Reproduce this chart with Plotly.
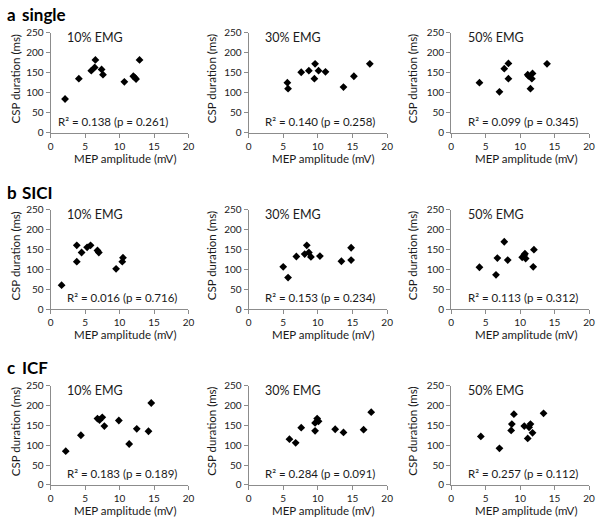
import plotly.graph_objects as go
from plotly.subplots import make_subplots

# ---- data (MEP amplitude mV, CSP duration ms) ----
single_10_x = [2.1, 4.1, 5.9, 6.4, 6.5, 7.4, 7.6, 10.7, 12.0, 12.2, 12.4, 12.9]
single_10_y = [84, 135, 155, 163, 182, 158, 145, 127, 141, 138, 134, 182]
single_30_x = [5.6, 5.7, 7.6, 8.7, 9.5, 9.6, 10.1, 11.1, 13.7, 15.2, 17.5]
single_30_y = [125, 110, 151, 155, 135, 172, 155, 152, 114, 141, 172]
single_50_x = [4.1, 7.0, 7.7, 8.3, 8.3, 11.1, 11.2, 11.8, 11.5, 11.7, 13.9]
single_50_y = [125, 102, 160, 173, 135, 145, 142, 148, 110, 135, 172]

sici_10_x = [1.6, 3.8, 3.8, 4.5, 5.3, 5.8, 6.8, 7.0, 9.5, 10.4, 10.5]
sici_10_y = [61, 161, 120, 143, 156, 161, 148, 143, 102, 120, 130]
sici_30_x = [5.0, 5.7, 6.9, 8.1, 8.4, 8.7, 9.0, 10.3, 13.4, 14.8, 14.8]
sici_30_y = [107, 80, 133, 139, 161, 143, 132, 134, 121, 155, 124]
sici_50_x = [4.1, 6.5, 6.7, 7.7, 8.2, 10.3, 10.6, 10.8, 10.7, 12.0, 11.9]
sici_50_y = [106, 87, 129, 170, 124, 131, 137, 128, 140, 150, 107]

icf_10_x = [2.2, 4.4, 6.8, 7.1, 7.5, 7.8, 9.9, 11.4, 12.5, 14.2, 14.6]
icf_10_y = [85, 125, 167, 163, 170, 148, 162, 103, 141, 135, 206]
icf_30_x = [5.9, 6.8, 7.6, 9.6, 9.6, 9.9, 10.1, 12.5, 13.7, 16.6, 17.7]
icf_30_y = [115, 106, 144, 156, 136, 167, 160, 140, 132, 139, 183]
icf_50_x = [4.3, 7.0, 8.7, 8.8, 9.1, 10.6, 11.1, 11.3, 11.5, 11.8, 13.4]
icf_50_y = [122, 92, 137, 153, 178, 148, 117, 145, 153, 131, 180]

panel_x = [[single_10_x, single_30_x, single_50_x],
           [sici_10_x, sici_30_x, sici_50_x],
           [icf_10_x, icf_30_x, icf_50_x]]
panel_y = [[single_10_y, single_30_y, single_50_y],
           [sici_10_y, sici_30_y, sici_50_y],
           [icf_10_y, icf_30_y, icf_50_y]]

emg_labels = ["10% EMG", "30% EMG", "50% EMG"]
stats = [["R² = 0.138 (p = 0.261)", "R² = 0.140 (p = 0.258)", "R² = 0.099 (p = 0.345)"],
         ["R² = 0.016 (p = 0.716)", "R² = 0.153 (p = 0.234)", "R² = 0.113 (p = 0.312)"],
         ["R² = 0.183 (p = 0.189)", "R² = 0.284 (p = 0.091)", "R² = 0.257 (p = 0.112)"]]
row_letters = ["a", "b", "c"]
row_names = ["single", "SICI", "ICF"]
x_title = "MEP amplitude (mV)"
y_title = "CSP duration (ms)"
x_ticks = [0, 5, 10, 15, 20]
y_ticks = [0, 50, 100, 150, 200, 250]

# ---- layout geometry (pixels) ----
W, H = 600, 521
cols_px = [(48.3, 188.3), (249.3, 390.0), (455.0, 595.0)]
rows_px = [(27.3, 129.3), (208.3, 310.0), (387.7, 489.3)]
ytitle_x = [13, 211.7, 415.7]
title_y = [8.3, 190.7, 369.3]
r2_x = [[0.8, 2.1, 2.1], [2.1, 2.1, 2.1], [2.1, 2.1, 2.1]]
r2_y = [27, 29, 28.5]

FONT = "Lato"
TXT = "#1a1a1a"
AX = "#8c8c8c"

fig = make_subplots(rows=3, cols=3)
annotations = []

for r in range(3):
    for c in range(3):
        idx = r * 3 + c + 1
        fig.add_trace(go.Scatter(x=panel_x[r][c], y=panel_y[r][c], mode="markers",
                                 marker=dict(symbol="diamond", size=6, color="black"),
                                 showlegend=False, hoverinfo="x+y"),
                      row=r + 1, col=c + 1)
        xs = "" if idx == 1 else str(idx)
        x0, x1 = cols_px[c]
        y0, y1 = rows_px[r]
        fig.layout["xaxis" + xs].update(
            domain=[x0 / W, x1 / W], range=[0, 20], tickvals=x_ticks,
            showline=True, linecolor=AX, linewidth=1, ticks="outside", ticklen=4,
            tickcolor=AX, showgrid=False, zeroline=False,
            tickfont=dict(family=FONT, size=10, color=TXT), fixedrange=True)
        fig.layout["yaxis" + xs].update(
            domain=[1 - y1 / H, 1 - y0 / H], range=[0, 250], tickvals=y_ticks,
            showline=True, linecolor=AX, linewidth=1, ticks="outside", ticklen=4,
            tickcolor=AX, showgrid=False, zeroline=False,
            tickfont=dict(family=FONT, size=10, color=TXT), fixedrange=True)
        xr, yr = "x" + xs, "y" + xs
        annotations.append(dict(x=2.1, y=238, xref=xr, yref=yr, text=emg_labels[c],
                                showarrow=False, xanchor="left", yanchor="middle",
                                font=dict(family=FONT, size=12.5, color=TXT)))
        annotations.append(dict(x=r2_x[r][c], y=r2_y[r], xref=xr, yref=yr, text=stats[r][c],
                                showarrow=False, xanchor="left", yanchor="middle",
                                font=dict(family=FONT, size=11.5, color=TXT)))
        # axis titles
        annotations.append(dict(x=((x0 + x1) / 2 + 6) / W, y=1 - (y1 + 26) / H,
                                xref="paper", yref="paper", text=x_title, showarrow=False,
                                xanchor="center", yanchor="middle",
                                font=dict(family=FONT, size=11.5, color=TXT)))
        annotations.append(dict(x=ytitle_x[c] / W, y=1 - ((y0 + y1) / 2 - 4) / H,
                                xref="paper", yref="paper", text=y_title, showarrow=False,
                                textangle=-90, xanchor="center", yanchor="middle",
                                font=dict(family=FONT, size=11.5, color=TXT)))
    annotations.append(dict(x=2 / W, y=1 - title_y[r] / H, xref="paper", yref="paper",
                            text="<b>" + row_letters[r] + "</b>", showarrow=False,
                            xanchor="left", yanchor="middle",
                            font=dict(family=FONT, size=17, color="black")))
    annotations.append(dict(x=17 / W, y=1 - title_y[r] / H, xref="paper", yref="paper",
                            text="<b>" + row_names[r] + "</b>", showarrow=False,
                            xanchor="left", yanchor="middle",
                            font=dict(family=FONT, size=17, color="black")))

fig.update_layout(width=W, height=H, margin=dict(l=0, r=0, t=0, b=0),
                  paper_bgcolor="white", plot_bgcolor="white",
                  annotations=annotations, font=dict(family=FONT, color=TXT))
fig.write_html("out.html", config={"displayModeBar": False},
               post_script="document.body.style.margin='0';document.body.style.padding='0';")
